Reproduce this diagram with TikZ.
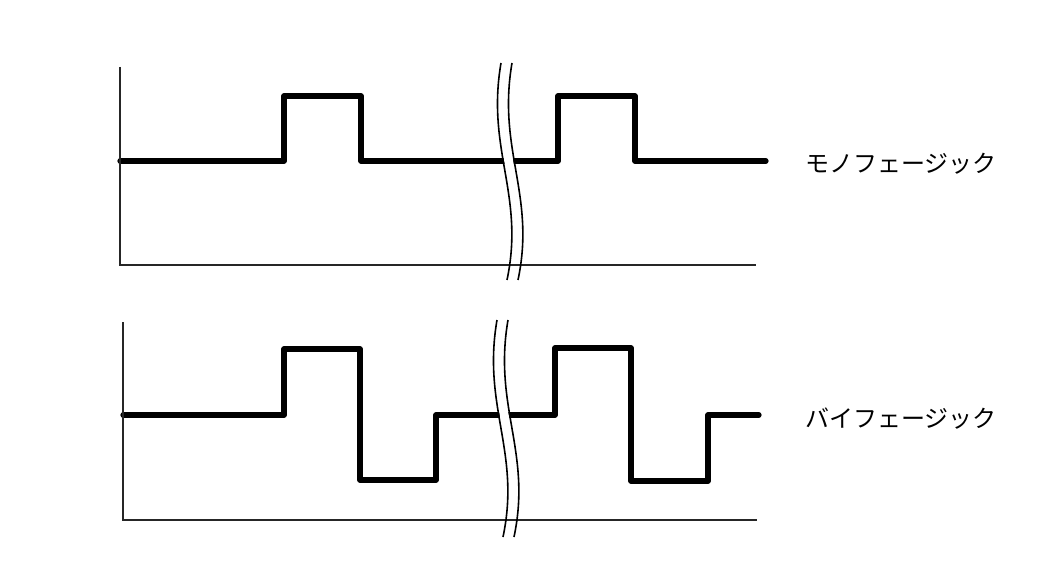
\documentclass[tikz,border=0pt]{standalone}
\usepackage{fontspec}
\newfontfamily\jpfont{Noto Sans CJK JP}
\begin{document}
\begin{tikzpicture}[x=1pt,y=-1pt]
\tikzset{
  wave/.style={line width=5.2pt, line join=round, line cap=round},
  axis/.style={line width=2pt, draw=black!85},
  brk/.style={line width=1.6pt},
  gap/.style={line width=9pt, draw=white},
  lbl/.style={anchor=west, inner sep=0pt, font=\jpfont\fontsize{24}{28}\selectfont}
}
\useasboundingbox (0,0) rectangle (1040,585);
\fill[white] (0,0) rectangle (1040,585);

% ---- top: monophasic ----
\draw[wave] (120,161) -- (284,161) -- (284,96) -- (361,96) -- (361,161) -- (558,161) -- (558,96) -- (635,96) -- (635,161) -- (766,161);
\draw[gap] (506.5,63) .. controls (491.5,150) and (530.5,195) .. (512.5,280);
\draw[axis] (120,67) -- (120,265) -- (756,265);
\draw[brk] (501,63) .. controls (486,150) and (525,195) .. (507,280);
\draw[brk] (512,63) .. controls (497,150) and (536,195) .. (518,280);
\node[lbl] (mono) at (805,164) {モノフェージック};

% ---- bottom: biphasic ----
\draw[wave] (123,415) -- (284,415) -- (284,349) -- (360,349) -- (360,480) -- (436,480) -- (436,415) -- (555,415) -- (555,348) -- (631,348) -- (631,481) -- (708,481) -- (708,415) -- (759,415);
\draw[gap] (502.5,320) .. controls (487.5,407) and (526.5,452) .. (508.5,537);
\draw[axis] (123,322) -- (123,520) -- (757,520);
\draw[brk] (497,320) .. controls (482,407) and (521,452) .. (503,537);
\draw[brk] (508,320) .. controls (493,407) and (532,452) .. (514,537);
\node[lbl] (bi) at (805,419) {バイフェージック};
\end{tikzpicture}
\end{document}
